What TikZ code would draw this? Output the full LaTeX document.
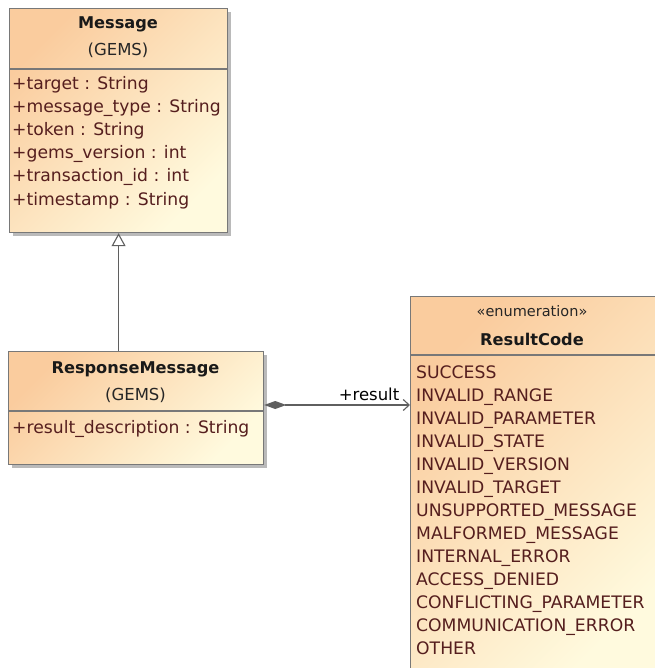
\documentclass[tikz,border=0pt]{standalone}
\usepackage{fontspec}
\setmainfont{DejaVu Sans}
\usetikzlibrary{arrows.meta,shadows}
\definecolor{orangec}{RGB}{250,204,158}
\definecolor{yellowc}{RGB}{255,250,222}
\definecolor{bordc}{RGB}{120,120,120}
\definecolor{attrc}{RGB}{85,30,30}
\definecolor{linec}{RGB}{95,95,95}
\tikzset{
  umlbox/.style={draw=bordc, line width=1.2pt, shading=axis, left color=orangec, right color=yellowc, shading angle=45, inner sep=0pt},
  shadowed/.style={drop shadow={shadow xshift=3pt, shadow yshift=-3pt, fill=black!45, opacity=.6}},
  sepline/.style={draw=bordc, line width=1.1pt},
  titletxt/.style={font=\bfseries\fontsize{16.2}{19}\selectfont, text=black!90, inner sep=0pt, anchor=base},
  subtxt/.style={font=\fontsize{16.5}{19}\selectfont, text=black!85, inner sep=0pt, anchor=base},
  attrtxt/.style={font=\fontsize{17.2}{20}\selectfont, text=attrc, inner sep=0pt, anchor=base west},
  conn/.style={draw=linec, line width=1.1pt}
}
\begin{document}
\begin{tikzpicture}[x=1pt,y=-1pt]
\useasboundingbox (0,0) rectangle (654,668);
% Message box
\node[umlbox, shadowed, minimum width=218pt, minimum height=224pt, anchor=north west] (msg) at (9,8) {};
\draw[sepline] (msg.west |- 0,69) -- (msg.east |- 0,69);
\node[titletxt] (msgt) at (118,29) {Message};
\node[subtxt] (msgs) at (118,56) {(GEMS)};
\foreach \t [count=\i from 0] in {+target : String, +message\_type : String, +token : String, +gems\_version : int, +transaction\_id : int, +timestamp : String}
  \node[attrtxt] (ma\i) at (12,90+23*\i) {\t};
% ResponseMessage box
\node[umlbox, shadowed, minimum width=255pt, minimum height=113pt, anchor=north west] (resp) at (8,351) {};
\draw[sepline] (resp.west |- 0,411) -- (resp.east |- 0,411);
\node[titletxt] (respt) at (135.5,373) {ResponseMessage};
\node[subtxt] (resps) at (135.5,400) {(GEMS)};
\node[attrtxt] (respa) at (12,433) {+result\_description : String};
% ResultCode box
\node[umlbox, minimum width=250pt, minimum height=380pt, anchor=north west] (rc) at (410,296) {};
\draw[sepline] (rc.west |- 0,355) -- (656,355);
\node[subtxt, font=\fontsize{14.5}{17}\selectfont] (rcs) at (532,316) {«enumeration»};
\node[titletxt] (rct) at (532,345) {ResultCode};
\foreach \t [count=\i from 0] in {SUCCESS, INVALID\_RANGE, INVALID\_PARAMETER, INVALID\_STATE, INVALID\_VERSION, INVALID\_TARGET, UNSUPPORTED\_MESSAGE, MALFORMED\_MESSAGE, INTERNAL\_ERROR, ACCESS\_DENIED, CONFLICTING\_PARAMETER, COMMUNICATION\_ERROR, OTHER}
  \node[attrtxt] (rc\i) at (416,378+23*\i) {\t};
% generalization
\draw[conn, -{Triangle[open, length=13pt, width=14pt, fill=white]}] (resp.north -| msg.south) -- (msg.south);
% composition
\coordinate (cs) at (resp.east |- 0,405);
\coordinate (ce) at (rc.west |- 0,405);
\draw[conn, {Diamond[length=22pt, width=8pt, fill=linec]}-{Straight Barb[length=6pt, width=11pt]}] (cs) -- (ce);
\node[subtxt, text=black] (lbl) at (369,400) {+result};
\end{tikzpicture}
\end{document}
